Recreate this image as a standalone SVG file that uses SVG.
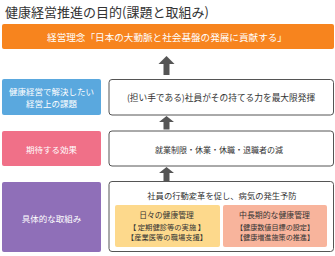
<svg xmlns="http://www.w3.org/2000/svg" width="335" height="256" viewBox="0 0 335 256">
<style>
text{font-family:"Noto Sans CJK JP","Noto Sans",sans-serif;dominant-baseline:central;text-anchor:middle}
.w{fill:#fff}
.d{fill:#333}
.box{fill:#fff;stroke:#555;stroke-width:1}
.arr{fill:#555}
</style>
<rect width="335" height="256" fill="#fff"/>
<text x="5" y="11" class="d" style="text-anchor:start" font-size="13">健康経営推進の目的(課題と取組み)</text>
<g id="rinen">
<rect x="2" y="24" width="332" height="25" rx="2" fill="#f7841e"/>
<text x="167" y="36.5" class="w" font-size="9.6">経営理念「日本の大動脈と社会基盤の発展に貢献する」</text>
</g>
<g id="kadai-label">
<rect x="2" y="79" width="99" height="36" rx="2" fill="#5aa8de"/>
<text x="51.5" y="91" class="w" font-size="8.5">健康経営で解決したい</text>
<text x="51.5" y="103" class="w" font-size="8.5">経営上の課題</text>
</g>
<g id="kadai">
<rect x="109" y="79.5" width="224.5" height="35.5" rx="3" class="box"/>
<text x="221" y="97" class="d" font-size="8.7">(担い手である)社員がその持てる力を最大限発揮</text>
</g>
<g id="koka-label">
<rect x="2" y="131" width="99" height="35" rx="2" fill="#f07088"/>
<text x="51.5" y="149" class="w" font-size="8.5">期待する効果</text>
</g>
<g id="koka">
<rect x="109" y="131" width="224.5" height="35" rx="3" class="box"/>
<text x="219" y="149" class="d" font-size="8">就業制限・休業・休職・退職者の減</text>
</g>
<g id="torikumi-label">
<rect x="2" y="182" width="99" height="70" rx="2" fill="#8f6fb8"/>
<text x="51.5" y="217.5" class="w" font-size="8.5">具体的な取組み</text>
</g>
<g id="torikumi">
<rect x="109" y="181.5" width="224.5" height="70" rx="3" class="box"/>
<text x="222" y="195" class="d" font-size="8.3">社員の行動変革を促し、病気の発生予防</text>
</g>
<g id="hibi">
<rect x="115" y="205" width="105" height="42" rx="2" fill="#fdd98c"/>
<text x="166.5" y="214" class="d" font-size="7.8">日々の健康管理</text>
<text x="167" y="227" class="d" font-size="7.3">【 定期健診等の実施 】</text>
<text x="167" y="237" class="d" font-size="7.3">【産業医等の職場支援】</text>
</g>
<g id="chochoki">
<rect x="223" y="205" width="104" height="42" rx="2" fill="#f8b49c"/>
<text x="274.5" y="214" class="d" font-size="7.9">中長期的な健康管理</text>
<text x="275" y="227" class="d" font-size="7.1">【健康数値目標の設定】</text>
<text x="275" y="237" class="d" font-size="7.1">【健康増進施策の推進】</text>
</g>
<g id="connectors" class="arr">
<path d="M166.5 56 L174.5 64 L169.5 64 L169.5 75 L163.5 75 L163.5 64 L158.5 64 Z"/>
<path d="M166.5 116 L174 122 L169.5 122 L169.5 129.5 L163.5 129.5 L163.5 122 L159 122 Z"/>
<path d="M166.5 167 L174 173 L169.5 173 L169.5 181 L163.5 181 L163.5 173 L159 173 Z"/>
</g>
</svg>
